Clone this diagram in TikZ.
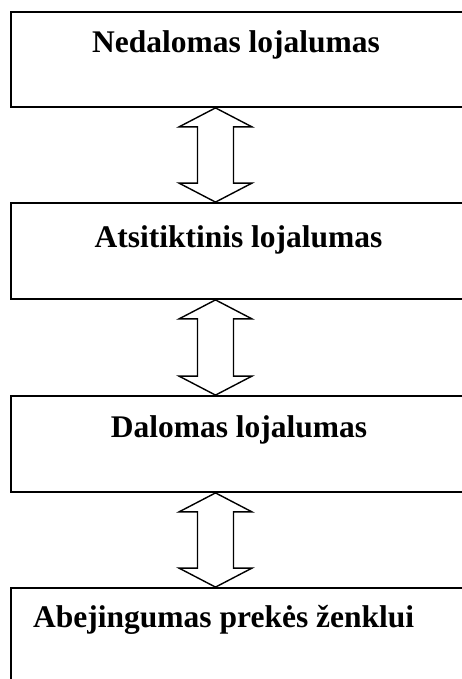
\documentclass[tikz,border=0pt]{standalone}
\usepackage{fontspec}
\setmainfont{Liberation Serif}
\usetikzlibrary{calc}
\begin{document}
\begin{tikzpicture}[x=1bp,y=-1bp,
  box/.style={draw,line width=1.8bp,minimum width=453bp,inner sep=0pt},
  lbl/.style={font=\fontsize{31.5bp}{36bp}\selectfont\bfseries,inner sep=0pt,anchor=base},
  dbl/.style={draw,line width=1.4bp,line join=miter,fill=white}]
\useasboundingbox (0,0) rectangle (462,679);
\clip (0,0) rectangle (462,679);
% stacked loyalty levels
\node[box,minimum height=95bp]  (b1) at (237.5,59.5) {};
\node[box,minimum height=96bp]  (b2) at (237.5,251) {};
\node[box,minimum height=96bp]  (b3) at (237.5,444) {};
\node[box,minimum height=110bp] (b4) at (237.5,643) {};
% labels
\node[lbl] (t1) at (236,53) {Nedalomas lojalumas};
\node[lbl] (t2) at (238.5,247) {Atsitiktinis lojalumas};
\node[lbl] (t3) at (239,437) {Dalomas lojalumas};
\node[lbl,anchor=base west] (t4) at (33,627) {Abejingumas prekės ženklui};
% two-headed block arrows between neighbouring levels
\coordinate (ax) at (215.5,0);
\foreach \a/\b in {b1/b2,b2/b3,b3/b4}{
  \path (\a.south -| ax) coordinate (p) (\b.north -| ax) coordinate (q);
  \draw[dbl] (p) -- ++(36.5,19) -- ++(-18.5,0) -- ($(q)+(18,-19)$) -- ++(18.5,0)
    -- (q) -- ++(-36.5,-19) -- ++(18.5,0) -- ($(p)+(-18,19)$) -- ++(-18.5,0) -- cycle;
}
\end{tikzpicture}
\end{document}
